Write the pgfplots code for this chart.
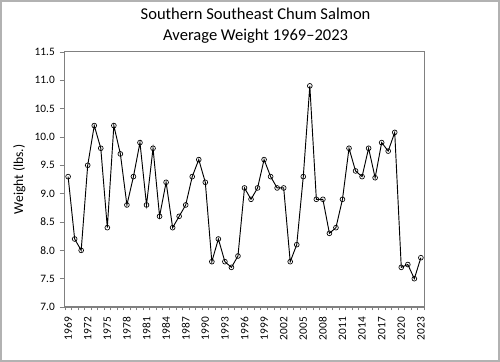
\documentclass[border=0pt]{standalone}
\usepackage{pgfplots}
\pgfplotsset{compat=1.18}
\usepackage{fontspec}
\setmainfont{Carlito}
\begin{document}
\begin{tikzpicture}
\draw[gray!60, line width=1.2pt] (0.75pt,0.75pt) rectangle (374.25pt,270.75pt);
\node[align=center, font=\fontsize{12.4}{15.5}\selectfont] at (191.7pt,252pt) {Southern Southeast Chum Salmon\\Average Weight 1969--2023};
\begin{axis}[
  at={(48.75pt,41.25pt)}, anchor=south west,
  scale only axis, width=269.25pt, height=191.25pt,
  xmin=1968.5, xmax=2023.5, ymin=7, ymax=11.5,
  xtick={1969,1972,...,2023},
  minor xtick={1968.5,1969.5,...,2023.5},
  ytick={7,7.5,...,11.5},
  yticklabel style={/pgf/number format/.cd, fixed, fixed zerofill, precision=1},
  xticklabel style={rotate=90, anchor=east, /pgf/number format/1000 sep={}},
  /pgf/number format/assume math mode=true,
  tick label style={font=\fontsize{8.5}{10}\selectfont},
  ylabel={Weight (lbs.)},
  ylabel style={font=\fontsize{10.2}{12}\selectfont},
  axis line style={gray, line width=0.9pt},
  tick style={gray, line width=0.5pt},
  tick align=outside,
  major tick length=4pt, minor tick length=2.5pt,
  major x tick style={draw=none},
  minor x tick style={draw=gray},
  xtick pos=bottom, ytick pos=left,
]
\addplot[black, line width=0.7pt, mark=o, mark size=1.8pt, mark options={fill=white, line width=0.5pt}] coordinates {
(1969,9.3) (1970,8.2) (1971,8.0) (1972,9.5) (1973,10.2) (1974,9.8) (1975,8.4)
(1976,10.2) (1977,9.7) (1978,8.8) (1979,9.3) (1980,9.9) (1981,8.8) (1982,9.8)
(1983,8.6) (1984,9.2) (1985,8.4) (1986,8.6) (1987,8.8) (1988,9.3) (1989,9.6)
(1990,9.2) (1991,7.8) (1992,8.2) (1993,7.8) (1994,7.7) (1995,7.9) (1996,9.1)
(1997,8.9) (1998,9.1) (1999,9.6) (2000,9.3) (2001,9.1) (2002,9.1) (2003,7.8)
(2004,8.1) (2005,9.3) (2006,10.9) (2007,8.9) (2008,8.9) (2009,8.3) (2010,8.4)
(2011,8.9) (2012,9.8) (2013,9.4) (2014,9.3) (2015,9.8) (2016,9.28) (2017,9.9)
(2018,9.75) (2019,10.08) (2020,7.7) (2021,7.75) (2022,7.5) (2023,7.87)
};
\end{axis}
\end{tikzpicture}
\end{document}
